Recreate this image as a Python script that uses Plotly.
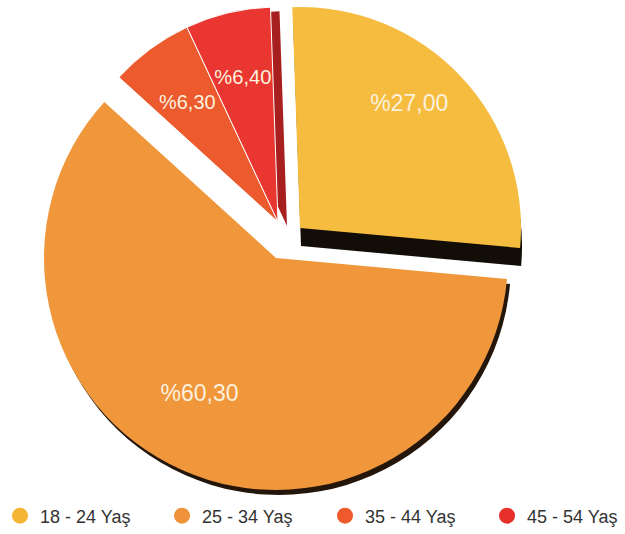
import plotly.graph_objects as go

# ---------------- data ----------------
labels = ["18 - 24 Yaş", "25 - 34 Yaş", "35 - 44 Yaş", "45 - 54 Yaş"]
values = [27.00, 60.30, 6.30, 6.40]
face_colors = ["#F5BC3F", "#F0963B", "#EC5A2E", "#E93630"]
side_colors = ["#120D07", "#24160A", "#B03A1E", "#A81F1F"]
legend_colors = ["#F5B534", "#F0923A", "#EE5A2C", "#E8302B"]

W, H = 625, 534
ROT = -2
TRANSPARENT = "rgba(0,0,0,0)"
N = len(values)


def pct(v):
    return "%" + f"{v:.2f}".replace(".", ",")


texts = [pct(v) for v in values]


def domain(cx, cy, r):
    return dict(x=[(cx - r) / W, (cx + r) / W], y=[1 - (cy + r) / H, 1 - (cy - r) / H])


def layer(show, colors, cx, cy, r, text_only=False, line_color=None, pull=0.0):
    if text_only:
        mc = [TRANSPARENT] * N
        txt = [texts[i] if i in show else "" for i in range(N)]
    else:
        mc = [colors[i] if i in show else TRANSPARENT for i in range(N)]
        txt = [""] * N
    lc = [line_color if (line_color and i in show) else TRANSPARENT for i in range(N)]
    pulls = [pull if i in show else 0.0 for i in range(N)]
    return go.Pie(
        values=values,
        labels=labels,
        sort=False,
        direction="clockwise",
        rotation=ROT,
        domain=domain(cx, cy, r),
        pull=pulls,
        marker=dict(colors=mc, line=dict(color=lc, width=1 if line_color else 0)),
        text=txt,
        texttemplate="%{text}",
        textposition="inside",
        insidetextorientation="horizontal",
        textfont=dict(color="#FCF1DE", size=23, family="Liberation Sans, Arial, sans-serif"),
        hoverinfo="skip",
        showlegend=False,
    )


fig = go.Figure()

# depth / side faces (drawn first, underneath)
fig.add_trace(layer([0], side_colors, 301, 246, 221))
fig.add_trace(layer([1], side_colors, 279, 263, 232))
fig.add_trace(layer([3], side_colors, 287, 226, 215))

# top faces
fig.add_trace(layer([0], face_colors, 300, 228, 221))
fig.add_trace(layer([1], face_colors, 276, 258, 232))
fig.add_trace(layer([2, 3], face_colors, 278, 222, 215, line_color="#FFFFFF"))

# value labels
fig.add_trace(layer([0], face_colors, 293, 213, 210, text_only=True, pull=0.80))
fig.add_trace(layer([1], face_colors, 262, 251, 230, text_only=True, pull=0.536))
fig.add_trace(layer([2, 3], face_colors, 279, 227, 185, text_only=True))

# legend entries with round markers, one legend box per entry
legend_px = [0, 162, 325, 487]
legend_ids = ["legend", "legend2", "legend3", "legend4"]
for lab, col, lid in zip(labels, legend_colors, legend_ids):
    fig.add_trace(go.Scatter(
        x=[None], y=[None], mode="markers", name=lab, legend=lid,
        marker=dict(size=16, color=col), hoverinfo="skip", showlegend=True,
    ))

legend_style = dict(
    orientation="h", xanchor="left", y=1 - 516 / H, yanchor="middle",
    font=dict(size=18, color="#333333", family="Liberation Sans, Arial, sans-serif"),
    bgcolor="rgba(0,0,0,0)",
)
layout_legends = {lid: dict(legend_style, x=px / W) for lid, px in zip(legend_ids, legend_px)}

fig.update_layout(
    width=W, height=H,
    margin=dict(l=0, r=0, t=0, b=0, autoexpand=False),
    paper_bgcolor="white", plot_bgcolor="white",
    xaxis=dict(visible=False), yaxis=dict(visible=False),
    **layout_legends,
)

fig.write_html(
    "out.html",
    config={"displayModeBar": False},
    post_script="document.body.style.margin='0px';",
)
